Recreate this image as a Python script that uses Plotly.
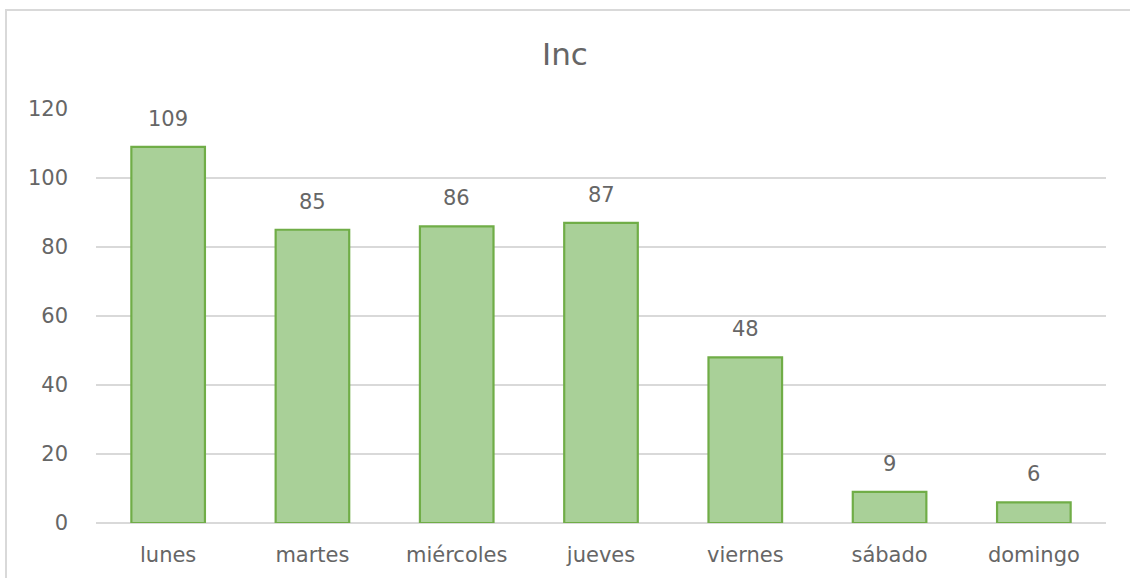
import plotly.graph_objects as go

# Incidencias por día de la semana
dias = ["lunes", "martes", "miércoles", "jueves", "viernes", "sábado", "domingo"]
incidencias = [109, 85, 86, 87, 48, 9, 6]
y_ticks = [0, 20, 40, 60, 80, 100, 120]

FONT = "DejaVu Sans, sans-serif"
GRAY = "#666666"

fig = go.Figure(
    go.Bar(
        x=dias,
        y=incidencias,
        marker=dict(color="#a9d098", line=dict(color="#70ad47", width=2.2)),
        cliponaxis=False,
        hoverinfo="x+y",
    )
)

# Etiquetas de valor sobre cada barra
for d, v in zip(dias, incidencias):
    fig.add_annotation(
        x=d,
        y=v,
        text=str(v),
        showarrow=False,
        yanchor="middle",
        yshift=28,
        font=dict(family=FONT, size=21, color=GRAY),
    )

fig.update_layout(
    width=1130,
    height=578,
    paper_bgcolor="white",
    plot_bgcolor="white",
    margin=dict(l=96, r=24, t=109, b=55),
    bargap=0.49,
    showlegend=False,
    title=dict(
        text="Inc",
        x=0.5,
        xanchor="center",
        y=1 - 54 / 578,
        yanchor="middle",
        font=dict(family=FONT, size=31, color=GRAY),
    ),
    xaxis=dict(
        tickfont=dict(family=FONT, size=21, color=GRAY),
        showgrid=False,
        showline=False,
        ticks="",
        ticklabelstandoff=17,
    ),
    yaxis=dict(
        range=[0, 120],
        tickvals=y_ticks,
        tickfont=dict(family=FONT, size=21, color=GRAY),
        showgrid=True,
        gridcolor="#d9d9d9",
        gridwidth=1.5,
        zeroline=True,
        zerolinecolor="#d9d9d9",
        zerolinewidth=1.5,
        showline=False,
        ticks="",
        ticklabelstandoff=27,
    ),
    shapes=[
        dict(
            type="rect",
            xref="paper",
            yref="paper",
            x0=-90 / 1010,
            x1=1.2,
            y0=-0.5,
            y1=1 + 99 / 414,
            line=dict(color="#d9d9d9", width=2),
            fillcolor="rgba(0,0,0,0)",
            layer="below",
        )
    ],
)

fig.write_html("out.html")
